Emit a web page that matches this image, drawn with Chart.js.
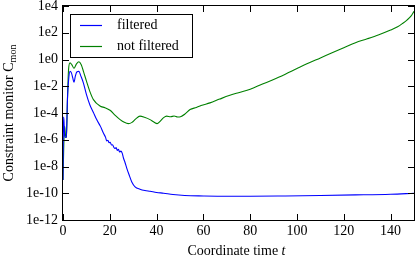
<!DOCTYPE html>
<html>
<head>
<meta charset="utf-8">
<script src="https://cdn.jsdelivr.net/npm/chart.js@4/dist/chart.umd.min.js"></script>
<style>
html,body{margin:0;padding:0;background:#fff;}
#wrap{width:415px;height:258px;}
</style>
</head>
<body>
<div id="wrap"><canvas id="c" width="415" height="258"></canvas></div>
<script>
// ---- data ----
const seriesLabels = ["filtered", "not filtered"];
const seriesColors = ["#0000ff", "#008000"];

const filteredT = [0,0.2,0.4,0.7,1.0,1.4,1.9,2.4,3.0,3.6,4.2,4.7,5.3,6.0,6.8,7.6,8.7,10,11.5,13,14.4,16,17.2,18.2,18.7,19.2,19.7,20.2,20.7,21.2,21.7,22.2,22.7,23.2,23.7,24.2,24.7,25.3,25.8,26.5,27.2,28.2,29.4,30.8,32.9,35,37.2,40,43,47,52,60,70,80,95,110,125,140,150];
const filteredC = [1e-9,5e-5,3e-5,2e-6,1.5e-6,1.6e-6,1e-3,0.03,0.13,0.1,0.04,0.02,0.06,0.12,0.13,0.06,0.018,2.5e-3,4e-4,1.1e-4,3.2e-5,1e-5,3.3e-6,1.5e-6,8e-7,9e-7,6e-7,6.5e-7,4e-7,4.2e-7,2.8e-7,2.2e-7,2.6e-7,1.6e-7,1.9e-7,1.2e-7,1.4e-7,1e-7,4.5e-8,2e-8,8e-9,2.5e-9,7e-10,3e-10,2e-10,1.6e-10,1.4e-10,1.15e-10,1e-10,8e-11,6.8e-11,6.3e-11,6e-11,6e-11,6.3e-11,6.8e-11,7.5e-11,8.5e-11,1e-10];

const unfilteredT = [0,0.3,0.7,1.1,1.5,1.9,2.4,3.0,3.8,4.7,5.7,6.8,7.8,8.8,10,11.5,13,15.8,17.9,20.1,22.2,24.4,26.2,27.9,29.5,31,32.9,34.8,37.2,39,40.2,41.5,43,44.3,46,47.5,49,50.5,52,54.3,57,59,62.8,67,71,75,80,85,90,95,100,105,110,115,120,125,130,135,140,143,145,147,148.7,150];
const unfilteredC = [1e-9,2e-7,1e-5,2e-6,1.5e-6,1e-3,0.2,0.56,0.4,0.22,0.45,0.68,0.4,0.12,0.025,4e-3,1e-3,3.3e-4,2.5e-4,1.6e-4,7e-5,3.2e-5,2e-5,1.6e-5,2e-5,3.5e-5,5.8e-5,4.8e-5,3.2e-5,2e-5,1.6e-5,2.4e-5,4.5e-5,5.8e-5,5.2e-5,6e-5,5e-5,5.5e-5,8e-5,1.8e-4,2.6e-4,3.6e-4,5.7e-4,1.1e-3,2e-3,3.3e-3,6e-3,0.014,0.032,0.08,0.21,0.54,1.3,3.2,7.6,18,35,71,158,280,480,890,1740,4000];

const xTicks = [0,20,40,60,80,100,120,140];
const yTicks = [1e-12,1e-10,1e-8,1e-6,1e-4,1e-2,1e0,1e2,1e4];
const xTitleMain = "Coordinate time ";
const xTitleVar = "t";
const yTitleMain = "Constraint monitor C";
const yTitleSub = "mon";

const FONT = "'Liberation Serif', 'DejaVu Serif', serif";

function pts(ts, cs){ return ts.map((t,i)=>({x:t, y:cs[i]})); }

const framePlugin = {
  id: 'frame',
  afterDraw(chart){
    const ctx = chart.ctx, a = chart.chartArea;
    const xs = chart.scales.x, ys = chart.scales.y;
    ctx.save();
    ctx.strokeStyle = '#000';
    ctx.lineWidth = 1;
    ctx.beginPath();
    xTicks.forEach(v=>{
      const px = Math.round(xs.getPixelForValue(v))+0.5;
      ctx.moveTo(px, a.bottom); ctx.lineTo(px, a.bottom-6);
      ctx.moveTo(px, a.top); ctx.lineTo(px, a.top+6);
    });
    yTicks.forEach(v=>{
      const py = Math.round(ys.getPixelForValue(v))+0.5;
      ctx.moveTo(a.left, py); ctx.lineTo(a.left+6, py);
      ctx.moveTo(a.right, py); ctx.lineTo(a.right-6, py);
    });
    ctx.stroke();
    ctx.strokeRect(Math.round(a.left)-0.5, Math.round(a.top)-0.5, Math.round(a.right-a.left)+1, Math.round(a.bottom-a.top)+1);

    // legend
    const lx = 70.5, ly = 14.5, lw = 122, lh = 43;
    ctx.fillStyle = '#fff';
    ctx.fillRect(lx, ly, lw, lh);
    ctx.strokeRect(lx, ly, lw, lh);
    ctx.font = "14px " + FONT;
    ctx.textBaseline = 'middle';
    ctx.textAlign = 'left';
    chart.data.datasets.forEach((ds,i)=>{
      const yy = 25.5 + i*21;
      ctx.strokeStyle = ds.borderColor;
      ctx.lineWidth = 1.2;
      ctx.beginPath(); ctx.moveTo(80, yy); ctx.lineTo(102, yy); ctx.stroke();
      ctx.fillStyle = '#000';
      ctx.fillText(ds.label, 117, yy);
    });

    // x title
    ctx.fillStyle = '#000';
    ctx.textBaseline = 'alphabetic';
    ctx.font = "14px " + FONT;
    const w1 = ctx.measureText(xTitleMain).width;
    ctx.font = "italic 14px " + FONT;
    const w2 = ctx.measureText(xTitleVar).width;
    const cx = (a.left + a.right)/2 - 2;
    let sx = cx - (w1+w2)/2;
    ctx.font = "14px " + FONT;
    ctx.fillText(xTitleMain, sx, 255);
    ctx.font = "italic 14px " + FONT;
    ctx.fillText(xTitleVar, sx + w1, 255);

    // y title
    ctx.save();
    ctx.translate(13, (a.top + a.bottom)/2);
    ctx.rotate(-Math.PI/2);
    ctx.font = "14px " + FONT;
    const m1 = ctx.measureText(yTitleMain).width;
    ctx.font = "10px " + FONT;
    const m2 = ctx.measureText(yTitleSub).width;
    const st = -(m1+m2)/2;
    ctx.font = "14px " + FONT;
    ctx.fillText(yTitleMain, st, 0);
    ctx.font = "10px " + FONT;
    ctx.fillText(yTitleSub, st + m1, 3);
    ctx.restore();

    ctx.restore();
  }
};

new Chart(document.getElementById('c'), {
  type: 'line',
  data: {
    datasets: [
      {label: seriesLabels[0], data: pts(filteredT, filteredC), borderColor: seriesColors[0], borderWidth: 1.1, pointRadius: 0, cubicInterpolationMode: 'monotone', fill: false},
      {label: seriesLabels[1], data: pts(unfilteredT, unfilteredC), borderColor: seriesColors[1], borderWidth: 1.1, pointRadius: 0, cubicInterpolationMode: 'monotone', fill: false}
    ]
  },
  options: {
    responsive: false,
    devicePixelRatio: 1,
    animation: false,
    layout: {padding: {top: 6, right: 1, left: 0, bottom: 0}},
    plugins: {legend: {display: false}, tooltip: {enabled: false}},
    scales: {
      x: {
        type: 'linear', min: 0, max: 150,
        afterBuildTicks(s){ s.ticks = xTicks.map(v=>({value:v})); },
        afterFit(s){ s.height = 38; s.paddingLeft = 0; s.paddingRight = 0; },
        grid: {display: false, drawTicks: false},
        border: {display: false},
        ticks: {color: '#000', font: {family: FONT, size: 14}, padding: 3, maxRotation: 0, autoSkip: false}
      },
      y: {
        type: 'logarithmic', min: 1e-12, max: 1e4,
        afterBuildTicks(s){ s.ticks = yTicks.map(v=>({value:v})); },
        afterFit(s){ s.width = 63; s.paddingTop = 0; s.paddingBottom = 0; },
        grid: {display: false, drawTicks: false},
        border: {display: false},
        ticks: {color: '#000', font: {family: FONT, size: 14}, padding: 5, autoSkip: false,
          callback: (v)=> '1e' + Math.round(Math.log10(v))}
      }
    }
  },
  plugins: [framePlugin]
});
</script>
</body>
</html>
